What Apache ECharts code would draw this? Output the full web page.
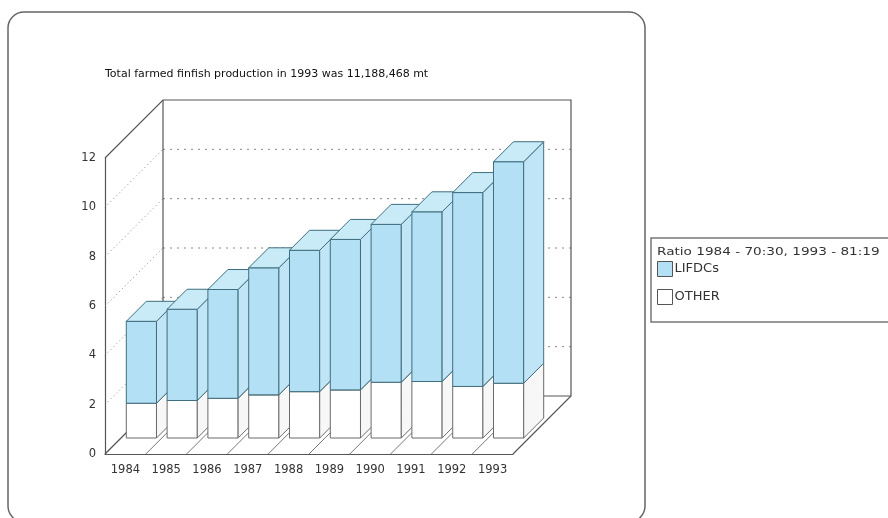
<!DOCTYPE html>
<html><head><meta charset="utf-8">
<script src="https://cdn.jsdelivr.net/npm/echarts@6/dist/echarts.min.js"></script>
<style>html,body{margin:0;padding:0;background:#fff}#c{width:888px;height:518px}</style>
</head><body><div id="c"></div>
<script>
// ---- data (million mt) ----
const categories = ['1984','1985','1986','1987','1988','1989','1990','1991','1992','1993'];
const otherValues = [1.41, 1.52, 1.61, 1.75, 1.88, 1.95, 2.26, 2.29, 2.09, 2.22];
const lifdcValues = [3.32, 3.70, 4.41, 5.15, 5.73, 6.10, 6.40, 6.88, 7.86, 8.98];
const yTicks = [0, 2, 4, 6, 8, 10, 12];
const titleText = 'Total farmed finfish production in 1993 was 11,188,468 mt';
const ratioText = 'Ratio 1984 - 70:30, 1993 - 81:19';

// ---- pseudo 3D styling ----
const WALL = 58, BAR_FRONT = 16, BAR_DEPTH = 20, BAR_RATIO = 0.74;
const EDGE = '#555';
const LAYERS = {
  OTHER:  {front:'#ffffff', side:'#f7f7f7', top:'#fbfbfb', stroke:'#6b6b6b'},
  LIFDCs: {front:'#b3e0f5', side:'#bfe5f6', top:'#c9ebf8', stroke:'#3f6e7e'}
};

function renderFrame(params, api) {
  const n = categories.length;
  const bw = api.size([1, 0])[0];
  const c0 = api.coord([0, 0]);
  const x0 = c0[0] - bw / 2, y0 = c0[1];
  const x1 = x0 + bw * n;
  const yTop = api.coord([0, yTicks[yTicks.length - 1]])[1];
  const D = WALL;
  const ch = [];
  yTicks.forEach(function (v, k) {
    if (k === 0 || k === yTicks.length - 1) return;
    const y = api.coord([0, v])[1];
    ch.push({type:'line', shape:{x1:x0, y1:y, x2:x0 + D, y2:y - D},
      style:{stroke:'#888', lineWidth:1, lineDash:[1, 3]}});
    ch.push({type:'line', shape:{x1:x0 + D, y1:y - D, x2:x1 + D, y2:y - D},
      style:{stroke:'#888', lineWidth:1, lineDash:[2, 5]}});
  });
  for (let k = 1; k < n; k++) {
    const x = x0 + k * bw;
    ch.push({type:'line', shape:{x1:x, y1:y0, x2:x + D, y2:y0 - D},
      style:{stroke:'#777', lineWidth:1}});
  }
  ch.push({type:'polyline', shape:{points:[[x0, yTop],[x0 + D, yTop - D],[x1 + D, yTop - D],[x1 + D, y0 - D],[x1, y0]]},
    style:{stroke:EDGE, lineWidth:1.2, fill:null}});
  ch.push({type:'line', shape:{x1:x0 + D, y1:yTop - D, x2:x0 + D, y2:y0 - D}, style:{stroke:EDGE, lineWidth:1.2}});
  ch.push({type:'line', shape:{x1:x0 + D, y1:y0 - D, x2:x1 + D, y2:y0 - D}, style:{stroke:EDGE, lineWidth:1}});
  ch.push({type:'line', shape:{x1:x0, y1:y0, x2:x0 + D, y2:y0 - D}, style:{stroke:EDGE, lineWidth:1.2}});
  return {type:'group', children:ch};
}

function makeBarRenderer(name, layerIdx) {
  const s = LAYERS[name];
  return function (params, api) {
    const i = api.value(0);
    const lo = api.value(1), hi = api.value(2);
    const bw = api.size([1, 0])[0];
    const w = bw * BAR_RATIO;
    const c = api.coord([i, lo]);
    const yb = c[1] - BAR_FRONT;
    const yt = api.coord([i, hi])[1] - BAR_FRONT;
    const xl = c[0] - w / 2 + BAR_FRONT, xr = xl + w;
    const d = BAR_DEPTH;
    const z = i * 10 + layerIdx * 3;
    const st = function (fill) { return {fill:fill, stroke:s.stroke, lineWidth:1, lineJoin:'round'}; };
    return {type:'group', children:[
      {type:'polygon', z2:z, shape:{points:[[xl, yb],[xr, yb],[xr, yt],[xl, yt]]}, style:st(s.front)},
      {type:'polygon', z2:z + 1, shape:{points:[[xr, yb],[xr + d, yb - d],[xr + d, yt - d],[xr, yt]]}, style:st(s.side)},
      {type:'polygon', z2:z + 2, shape:{points:[[xl, yt],[xr, yt],[xr + d, yt - d],[xl + d, yt - d]]}, style:st(s.top)}
    ]};
  };
}

const otherData = categories.map(function (c, i) { return [i, 0, otherValues[i]]; });
const lifdcData = categories.map(function (c, i) { return [i, otherValues[i], otherValues[i] + lifdcValues[i]]; });

const chart = echarts.init(document.getElementById('c'), null, {renderer:'canvas'});
chart.setOption({
  animation:false,
  backgroundColor:'#fff',
  title:{text:titleText, left:105, top:69, padding:0,
    textStyle:{fontFamily:'DejaVu Sans', fontSize:11, fontWeight:'normal', color:'#111'}},
  grid:{left:105, right:375, top:158, bottom:64, containLabel:false},
  xAxis:{type:'category', data:categories, boundaryGap:true,
    axisLine:{show:true, lineStyle:{color:EDGE, width:1.2}},
    axisTick:{show:false},
    axisLabel:{margin:10, fontFamily:'DejaVu Sans', fontSize:11.5, color:'#333'},
    splitLine:{show:false}},
  yAxis:{type:'value', min:0, max:12, interval:2,
    axisLine:{show:true, lineStyle:{color:EDGE, width:1.2}},
    axisTick:{show:false},
    axisLabel:{margin:9, fontFamily:'DejaVu Sans', fontSize:11.5, color:'#333'},
    splitLine:{show:false}},
  legend:{orient:'vertical', left:657, top:261, padding:0, itemWidth:15, itemHeight:15, itemGap:12,
    icon:'rect', selectedMode:false,
    data:[
      {name:'LIFDCs', itemStyle:{color:LAYERS.LIFDCs.front, borderColor:'#555', borderWidth:1}},
      {name:'OTHER', itemStyle:{color:'#fff', borderColor:'#555', borderWidth:1}}
    ],
    textStyle:{fontFamily:'DejaVu Sans', fontSize:13, color:'#333', padding:[0, 0, 0, -3]}},
  graphic:[
    {type:'rect', z:-1, shape:{x:8, y:12, width:637, height:510, r:16},
      style:{fill:null, stroke:'#666', lineWidth:1.5}},
    {type:'rect', shape:{x:651, y:238, width:260, height:84},
      style:{fill:null, stroke:'#777', lineWidth:1.5}},
    {type:'text', x:657, y:252, scaleX:1.36,
      style:{text:ratioText, x:0, y:0, fontFamily:'DejaVu Sans', fontSize:10, fill:'#333', verticalAlign:'middle'}}
  ],
  series:[
    {type:'custom', name:'frame', z:1, clip:false, silent:true, renderItem:renderFrame, data:[[0, 0]],
      encode:{x:0, y:1}},
    {type:'custom', name:'OTHER', z:2, clip:false, renderItem:makeBarRenderer('OTHER', 0), data:otherData,
      encode:{x:0, y:[1, 2]}, itemStyle:{color:'#fff', borderColor:'#555'}},
    {type:'custom', name:'LIFDCs', z:2, clip:false, renderItem:makeBarRenderer('LIFDCs', 1), data:lifdcData,
      encode:{x:0, y:[1, 2]}, itemStyle:{color:LAYERS.LIFDCs.front, borderColor:'#555'}}
  ]
});
</script>
</body></html>
